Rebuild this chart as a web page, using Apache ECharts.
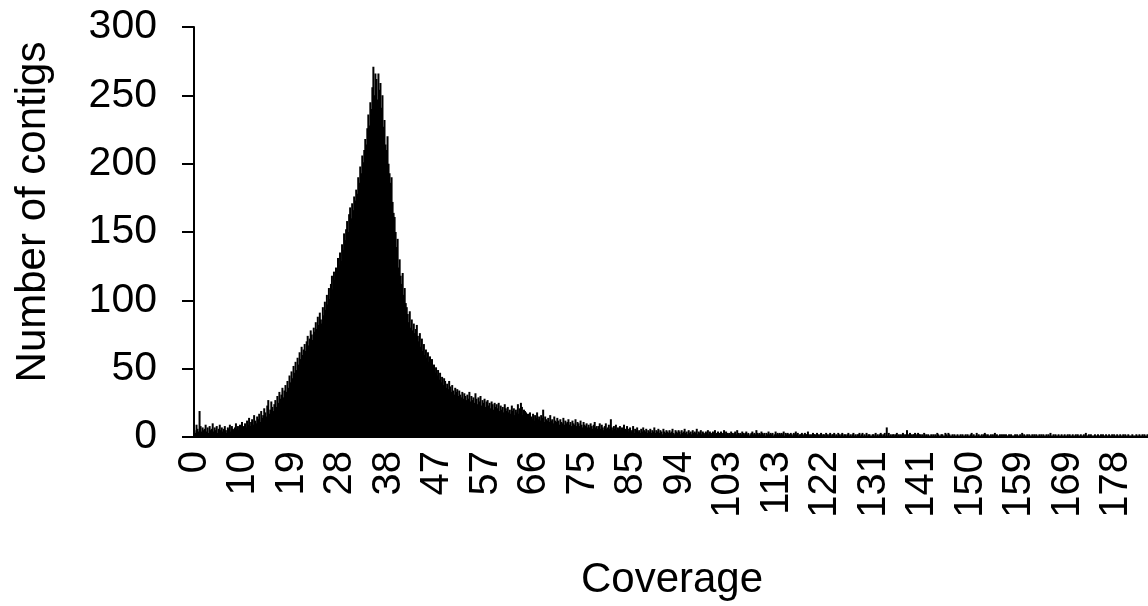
<!DOCTYPE html>
<html>
<head>
<meta charset="utf-8">
<script src="https://cdn.jsdelivr.net/npm/echarts@6/dist/echarts.min.js"></script>
<style>
  html, body { margin: 0; padding: 0; background: #fff; }
  #chart { width: 1148px; height: 606px; }
</style>
</head>
<body>
<div id="chart"></div>
<script>
// Contig counts per coverage bin (944 bins, ~0.195x coverage each)
const coverageCounts = [
  5, 3, 9, 6, 4, 19, 8, 4, 7, 5,
  6, 9, 4, 7, 3, 8, 5, 6, 10, 4,
  7, 5, 8, 3, 6, 9, 5, 7, 4, 6,
  8, 5, 3, 7, 6, 9, 4, 8, 6, 5,
  7, 10, 6, 8, 5, 9, 7, 11, 6, 8,
  10, 7, 12, 9, 14, 8, 11, 13, 9, 16,
  12, 10, 15, 13, 17, 11, 19, 14, 16, 21,
  18, 15, 23, 27, 17, 20, 26, 22, 19, 24,
  27, 22, 30, 25, 33, 28, 31, 36, 29, 34,
  38, 33, 41, 36, 45, 40, 48, 43, 52, 47,
  55, 49, 58, 53, 62, 57, 66, 60, 64, 68,
  63, 70, 74, 67, 72, 78, 75, 71, 80, 77,
  84, 79, 88, 82, 91, 86, 83, 95, 89, 99,
  93, 104, 97, 109, 101, 112, 118, 108, 121, 115,
  124, 119, 131, 126, 135, 129, 141, 137, 149, 144,
  152, 158, 150, 163, 168, 160, 171, 166, 176, 173,
  181, 178, 190, 186, 198, 193, 206, 201, 210, 218,
  214, 226, 236, 228, 245, 240, 256, 271, 250, 266,
  262, 247, 266, 254, 259, 241, 250, 227, 232, 214,
  210, 220, 200, 193, 186, 190, 172, 164, 161, 150,
  139, 145, 124, 130, 118, 112, 120, 104, 109, 98,
  95, 90, 84, 92, 80, 86, 78, 83, 76, 79,
  82, 74, 70, 76, 66, 72, 63, 68, 60, 64,
  58, 62, 55, 59, 51, 57, 49, 53, 47, 51,
  45, 49, 42, 47, 40, 44, 38, 43, 41, 36,
  39, 35, 41, 37, 33, 38, 34, 31, 36, 33,
  35, 30, 34, 31, 29, 33, 28, 32, 30, 27,
  31, 28, 33, 26, 30, 27, 29, 25, 32, 28,
  24, 29, 26, 30, 23, 27, 25, 28, 22, 26,
  27, 23, 25, 21, 26, 24, 20, 25, 22, 24,
  21, 25, 19, 23, 20, 22, 18, 24, 21, 19,
  22, 18, 20, 17, 23, 19, 21, 16, 20, 18,
  24, 17, 21, 25, 22, 16, 20, 19, 18, 15,
  17, 14, 18, 15, 13, 17, 12, 16, 14, 18,
  13, 15, 12, 16, 14, 20, 11, 15, 13, 12,
  14, 11, 16, 12, 13, 10, 15, 12, 11, 14,
  12, 9, 13, 11, 10, 14, 9, 12, 10, 11,
  13, 9, 11, 8, 12, 10, 9, 13, 8, 11,
  10, 8, 12, 9, 7, 11, 9, 8, 10, 7,
  9, 7, 10, 8, 6, 9, 11, 7, 8, 6,
  8, 10, 6, 9, 7, 5, 8, 10, 6, 7,
  9, 6, 13, 7, 5, 8, 6, 9, 5, 7,
  6, 8, 5, 7, 4, 9, 6, 5, 8, 4,
  6, 7, 4, 5, 8, 3, 6, 5, 7, 4,
  5, 3, 6, 4, 7, 5, 4, 6, 3, 5,
  4, 6, 3, 5, 4, 7, 3, 5, 4, 6,
  3, 5, 4, 2, 6, 4, 3, 5, 4, 3,
  5, 3, 4, 6, 3, 2, 5, 4, 3, 5,
  4, 2, 5, 3, 4, 6, 3, 4, 2, 5,
  3, 4, 2, 5, 3, 4, 3, 6, 2, 4,
  3, 5, 2, 4, 3, 2, 4, 3, 5, 2,
  4, 3, 2, 4, 3, 5, 2, 3, 4, 2,
  3, 4, 2, 3, 5, 2, 4, 3, 2, 3,
  2, 4, 3, 2, 3, 4, 2, 5, 3, 2,
  3, 2, 4, 3, 2, 3, 4, 2, 3, 1,
  2, 3, 4, 2, 3, 2, 5, 3, 2, 3,
  2, 4, 3, 2, 3, 1, 3, 2, 4, 2,
  3, 2, 3, 1, 2, 4, 2, 3, 2, 3,
  2, 3, 2, 4, 1, 3, 2, 3, 2, 2,
  3, 2, 1, 3, 2, 4, 2, 3, 1, 2,
  2, 3, 2, 1, 3, 2, 2, 4, 2, 1,
  2, 1, 3, 2, 2, 1, 3, 2, 1, 2,
  3, 1, 2, 2, 1, 3, 2, 1, 2, 3,
  1, 2, 2, 3, 1, 2, 1, 3, 2, 1,
  2, 3, 1, 2, 2, 1, 2, 3, 1, 2,
  1, 2, 3, 1, 2, 1, 2, 2, 3, 1,
  2, 3, 1, 2, 1, 3, 1, 2, 2, 1,
  1, 2, 2, 1, 3, 1, 2, 1, 2, 3,
  2, 1, 2, 3, 1, 7, 1, 3, 1, 2,
  1, 2, 2, 1, 2, 3, 1, 2, 1, 2,
  1, 3, 2, 1, 2, 5, 2, 1, 3, 2,
  1, 2, 2, 3, 1, 2, 3, 2, 2, 1,
  2, 1, 3, 1, 2, 1, 2, 1, 1, 2,
  1, 2, 1, 2, 1, 3, 2, 1, 1, 2,
  2, 1, 1, 3, 2, 1, 3, 2, 1, 1,
  2, 1, 2, 1, 1, 2, 1, 1, 2, 1,
  2, 1, 1, 2, 1, 2, 1, 1, 2, 3,
  1, 2, 1, 1, 3, 1, 2, 1, 1, 2,
  1, 2, 3, 2, 1, 2, 1, 1, 2, 1,
  2, 1, 3, 1, 2, 1, 1, 2, 1, 2,
  1, 2, 1, 2, 1, 1, 2, 1, 2, 1,
  1, 1, 2, 1, 2, 1, 1, 2, 1, 3,
  1, 2, 1, 1, 2, 1, 2, 1, 1, 2,
  1, 2, 1, 2, 1, 1, 2, 1, 2, 1,
  2, 1, 1, 2, 1, 2, 1, 3, 1, 1,
  2, 1, 2, 1, 1, 2, 1, 1, 2, 1,
  1, 2, 1, 1, 2, 1, 2, 1, 1, 2,
  1, 1, 2, 1, 2, 1, 1, 2, 1, 1,
  2, 1, 3, 1, 1, 2, 1, 2, 1, 1,
  1, 2, 1, 1, 2, 1, 1, 2, 1, 2,
  1, 1, 2, 1, 1, 2, 1, 1, 2, 1,
  2, 1, 1, 2, 1, 1, 2, 1, 1, 2,
  1, 2, 1, 1, 2, 1, 1, 1, 2, 1,
  1, 1, 2, 1, 1, 2, 1, 1, 2, 1,
  2, 1, 1, 2
];

// Coverage values printed under every 48th bin
const tickLabels = ['0', '10', '19', '28', '38', '47', '57', '66', '75', '85',
  '94', '103', '113', '122', '131', '141', '150', '159', '169', '178'];
const labelEvery = 48;

// Bin names (bin index); only every 48th one is shown, using tickLabels
const binNames = coverageCounts.map((_, i) => String(i));

const yTicks = { min: 0, max: 300, interval: 50 };

const FONT = '"Liberation Sans", Arial, sans-serif';

const chart = echarts.init(document.getElementById('chart'), null, { renderer: 'canvas' });
chart.setOption({
  animation: false,
  backgroundColor: '#ffffff',
  grid: { left: 194, right: 0, top: 27, bottom: 169, containLabel: false },
  xAxis: {
    type: 'category',
    data: binNames,
    boundaryGap: true,
    axisLine: { show: true, lineStyle: { color: '#000', width: 2 } },
    axisTick: { show: false },
    axisLabel: {
      rotate: 90,
      margin: 14,
      interval: (idx) => idx % labelEvery === 0,
      formatter: (val, idx) => tickLabels[idx / labelEvery] ?? '',
      color: '#000',
      fontFamily: FONT,
      fontSize: 40
    },
    splitLine: { show: false }
  },
  yAxis: {
    type: 'value',
    min: yTicks.min,
    max: yTicks.max,
    interval: yTicks.interval,
    axisLine: { show: true, lineStyle: { color: '#000', width: 2 } },
    axisTick: { show: true, inside: false, length: 12, lineStyle: { color: '#000', width: 2 } },
    axisLabel: {
      margin: 37,
      color: '#000',
      fontFamily: FONT,
      fontSize: 41
    },
    splitLine: { show: false }
  },
  graphic: [
    {
      type: 'text',
      rotation: Math.PI / 2,
      x: 33, y: 212,
      style: {
        text: 'Number of contigs',
        fill: '#000',
        font: '42px ' + FONT,
        textAlign: 'center',
        textVerticalAlign: 'middle'
      }
    },
    {
      type: 'text',
      x: 672, y: 580,
      style: {
        text: 'Coverage',
        fill: '#000',
        font: '42px ' + FONT,
        textAlign: 'center',
        textVerticalAlign: 'middle'
      }
    }
  ],
  series: [{
    type: 'bar',
    data: coverageCounts,
    barWidth: 2,
    barGap: '-100%',
    itemStyle: { color: '#000' },
    silent: true
  }]
});
</script>
</body>
</html>
